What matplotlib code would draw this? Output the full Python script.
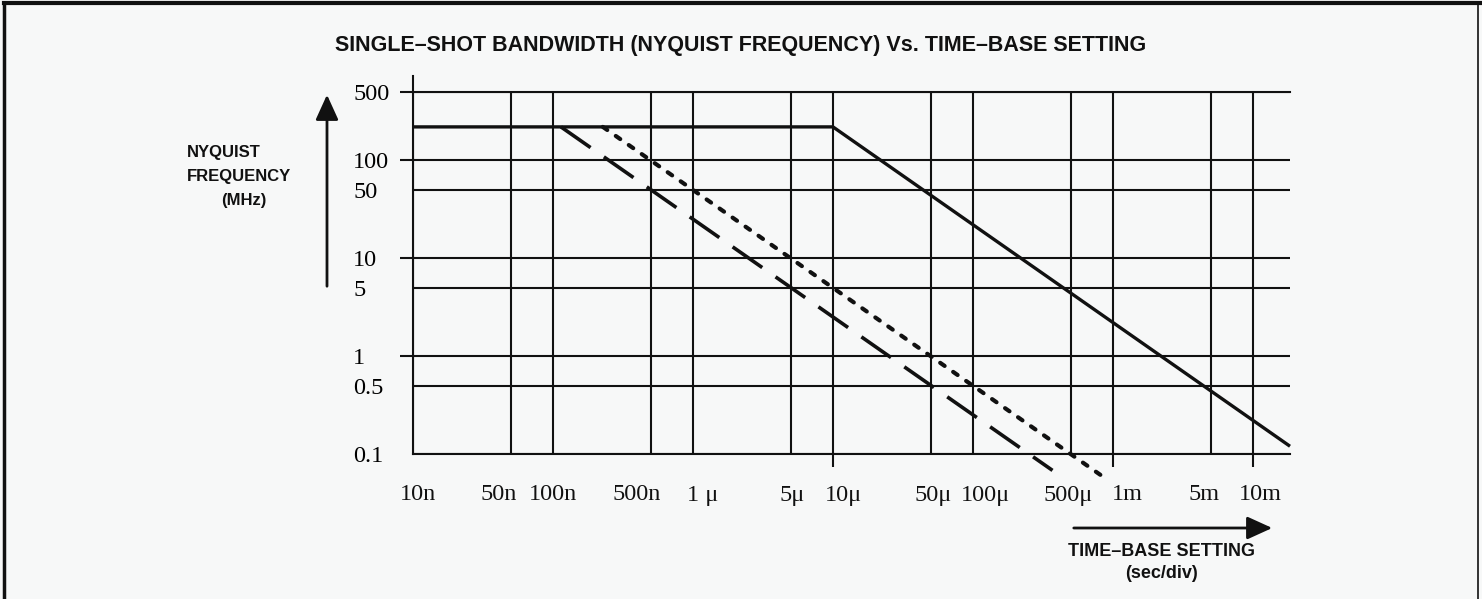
import matplotlib
matplotlib.use('Agg')
import matplotlib.pyplot as plt
from matplotlib.lines import Line2D
from matplotlib.patches import FancyArrowPatch
from matplotlib.transforms import ScaledTranslation

# grid / tick positions (sec/div) and labels
x_grid = [1e-8, 5e-8, 1e-7, 5e-7, 1e-6, 5e-6, 1e-5, 5e-5, 1e-4, 5e-4, 1e-3, 5e-3, 1e-2]
x_labels = ['10n', '50n', '100n', '500n', '1 \u03bc', '5\u03bc', '10\u03bc',
            '50\u03bc', '100\u03bc', '500\u03bc', '1m', '5m', '10m']
x_marks = [1e-5, 1e-3, 1e-2]

y_grid = [0.1, 0.5, 1, 5, 10, 50, 100, 500]
y_labels = ['0.1', '0.5', '1', '5', '10', '50', '100', '500']
y_marks = [1, 10, 100, 500]

# curves (sec/div, MHz)
solid_t = [1e-8, 1e-5, 1.84e-2]
solid_f = [220, 220, 0.12]
dash_t = [1.14e-7, 3.7e-4]
dash_f = [220, 0.068]
dot_t = [2.27e-7, 8.3e-4]
dot_f = [220, 0.06]

# the printed x labels sit a little off their grid lines (pixels)
x_label_shift = [5, -12, 0, -14, 10, 1, 10, 2, 12, -3, 14, -7, 7]

bg = '#f7f8f8'
ink = '#111111'

fig = plt.figure(figsize=(14.82, 5.99), dpi=100, facecolor=bg)
ax = fig.add_axes([413/1482, 1-454/599, (1290-413)/1482, (454-92)/599])
ax.set_facecolor('none')
ax.set_xscale('log')
ax.set_yscale('log')
ax.set_xlim(1e-8, 1.84e-2)
ax.set_ylim(0.1, 500)

ax.set_xticks(x_grid)
ax.set_xticklabels([])
ax.set_yticks(y_grid)
ax.set_yticklabels(y_labels)
ax.xaxis.remove_overlapping_locs = False
ax.yaxis.remove_overlapping_locs = False
ax.set_xticks(x_marks, minor=True)
ax.set_yticks(y_marks, minor=True)
ax.xaxis.set_minor_formatter(plt.NullFormatter())
ax.yaxis.set_minor_formatter(plt.NullFormatter())

serif = ['Liberation Serif', 'DejaVu Serif']
ax.tick_params(axis='both', which='major', length=0, labelsize=17.5)
ax.tick_params(axis='y', which='major', pad=43)
ax.tick_params(axis='both', which='minor', length=9.5, width=1.5, color=ink, direction='out')
for lbl in ax.get_yticklabels():
    lbl.set_family(serif)
    lbl.set_horizontalalignment('left')

for xv, txt, dx in zip(x_grid, x_labels, x_label_shift):
    tr = ax.get_xaxis_transform() + ScaledTranslation(dx / 100, 0, fig.dpi_scale_trans)
    ax.text(xv, -41/362, txt, transform=tr, ha='center', va='center',
            fontsize=17.5, family=serif, color=ink)

ax.grid(True, which='major', color=ink, lw=1.5)
for s in ['top', 'bottom', 'left']:
    ax.spines[s].set_linewidth(1.5)
    ax.spines[s].set_color(ink)
ax.spines['right'].set_visible(False)
ax.spines['left'].set_bounds(0.1, 730)

ax.plot(solid_t, solid_f, color=ink, lw=2.4, solid_capstyle='butt', clip_on=False, zorder=3)
ax.plot(dash_t, dash_f, color=ink, lw=2.6, linestyle=(0, (10, 4.5)), clip_on=False, zorder=3)
ax.plot(dot_t, dot_f, color=ink, lw=3, linestyle=(0, (1.3, 2.5)), dash_capstyle='round',
        clip_on=False, zorder=3)

sans = ['Liberation Sans', 'DejaVu Sans']
fig.text(741/1482, 1-46/599, 'SINGLE\u2013SHOT BANDWIDTH (NYQUIST FREQUENCY) Vs. TIME\u2013BASE SETTING',
         ha='center', va='center', fontsize=15.5, family=sans, fontweight='bold', color=ink)

# y axis caption and arrow
cap = dict(fontsize=12, family=sans, fontweight='bold', color=ink, va='center')
fig.text(187/1482, 1-152/599, 'NYQUIST', ha='left', **cap)
fig.text(187/1482, 1-177/599, 'FREQUENCY', ha='left', **cap)
fig.text(244/1482, 1-200/599, '(MHz)', ha='center', **cap)
fig.add_artist(FancyArrowPatch(
    (327/1482, 1-289/599), (327/1482, 1-92/599), transform=fig.transFigure,
    arrowstyle='-|>,head_length=11,head_width=5', lw=2, color=ink, mutation_scale=1.4))

# x axis caption and arrow
fig.add_artist(FancyArrowPatch(
    (1071/1482, 1-528/599), (1275/1482, 1-528/599), transform=fig.transFigure,
    arrowstyle='-|>,head_length=11,head_width=5', lw=2, color=ink, mutation_scale=1.4))
cap['fontsize'] = 13
fig.text(1162/1482, 1-552/599, 'TIME\u2013BASE SETTING', ha='center', **cap)
fig.text(1162/1482, 1-573/599, '(sec/div)', ha='center', **cap)

# page frame
fig.add_artist(Line2D([4/1482, 4/1482], [0, 1-3/599], transform=fig.transFigure, color=ink, lw=2.5))
fig.add_artist(Line2D([4/1482, 1], [1-3/599, 1-3/599], transform=fig.transFigure, color=ink, lw=3))
fig.add_artist(Line2D([1478/1482, 1478/1482], [0, 1-3/599], transform=fig.transFigure, color=ink, lw=1.2))

fig.savefig('out.png', dpi=100, facecolor=bg)
